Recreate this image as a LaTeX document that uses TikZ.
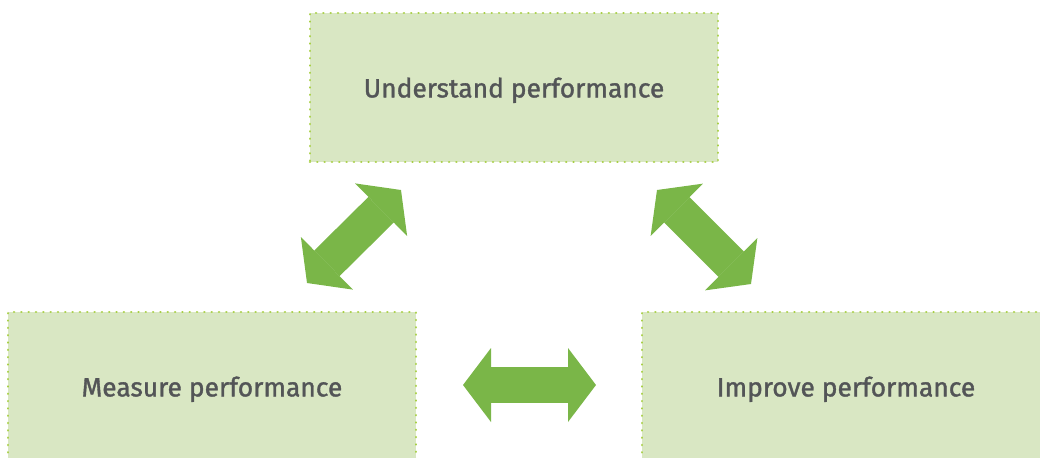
\documentclass[tikz,border=0pt]{standalone}
\usepackage{fontspec}
\setmainfont{Fira Sans}[BoldFont={Fira Sans}, BoldFeatures={FakeBold=1.3}]
\usetikzlibrary{positioning,arrows.meta}
\definecolor{boxfill}{HTML}{D9E7C3}
\definecolor{boxdot}{HTML}{A8CF45}
\definecolor{arrowgreen}{HTML}{7AB648}
\definecolor{textgray}{HTML}{535557}
\tikzset{
  stagebox/.style={draw=boxdot, fill=boxfill, line width=1.3pt, line cap=round,
    dash pattern=on 0.01pt off 3.65pt, minimum width=204pt, minimum height=74.5pt,
    inner sep=0pt, text depth=0pt, text=textgray,
    font=\fontsize{13.2}{16}\selectfont\bfseries},
  fatarrow/.style={arrowgreen, line width=18pt,
    {Triangle[width=37pt,length=14pt,line width=0pt]}-{Triangle[width=37pt,length=14pt,line width=0pt]}}
}

\begin{document}
\begin{tikzpicture}[x=0.5pt, y=-0.5pt]
            \clip (0,0) rectangle (1040,457);

            % Boxes
            \node[stagebox] (und) at (514,87.5) {Understand performance};
            \node[stagebox] (meas) at (212,386.5) {Measure performance};
            \node[stagebox] (impr) at (846,386.5) {Improve performance};

            % Arrow ends
            \coordinate (lft1) at (307,283);
            \coordinate (lft2) at (401,190);
            \coordinate (rgt1) at (657,190);
            \coordinate (rgt2) at (751,284);
            \coordinate (mid1) at (463,385);
            \coordinate (mid2) at (596,385);

            \draw[fatarrow] (lft1) -- (lft2);
            \draw[fatarrow] (rgt1) -- (rgt2);
            \draw[fatarrow] (mid1) -- (mid2);

        \end{tikzpicture}
\end{document}
